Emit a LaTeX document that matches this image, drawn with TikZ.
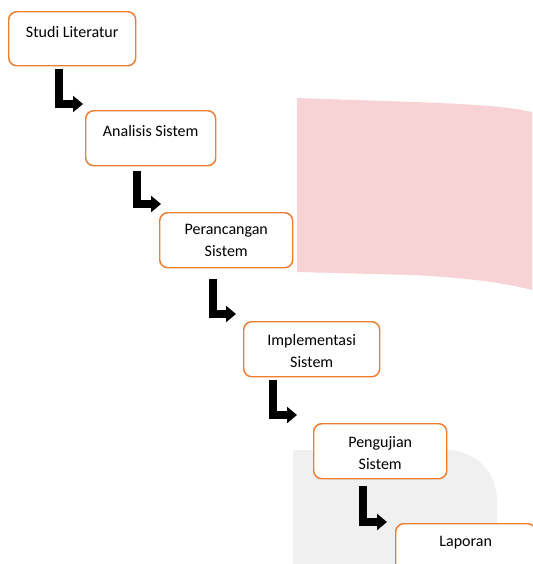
\documentclass[tikz,border=0pt]{standalone}
\usepackage{fontspec}
\setmainfont{Carlito}
\usepackage{xcolor}
\usepackage{tikz}
\usetikzlibrary{arrows.meta,calc}
\definecolor{orange}{RGB}{237, 125, 49}
\definecolor{pink}{RGB}{248, 211, 213}
\definecolor{mist}{RGB}{240, 240, 240}

\begin{document}
\begin{tikzpicture}[x=0.75pt,y=0.75pt,yscale=-1,xscale=1,
  stage/.style={draw=orange, line width=1.1pt, rounded corners=6pt, fill=white, anchor=north west, inner sep=0pt},
  stagetext/.style={anchor=north, inner sep=0pt, align=center, font=\fontsize{12}{16.5}\selectfont},
  turn/.style={line width=6pt, -{Triangle[length=7.5pt,width=12pt]}}]
\useasboundingbox (0,0) rectangle (532,564);

%Shape: Watermark [top right]
\fill [pink] (297,98) -- (413,102) .. controls (470,104) and (505,106) .. (532,112) -- (532,290) .. controls (505,283) and (470,278) .. (413,275) -- (297,272) -- cycle ;
%Shape: Watermark [bottom right]
\fill [mist] (293,450) -- (447,450) .. controls (475,450) and (497,472) .. (497,500) -- (497,564) -- (293,564) -- cycle ;

%Shape: Rounded Rect [Studi Literatur]
\node [stage, minimum width=95.25pt, minimum height=40.5pt] (lit) at (8,11) {};
%Shape: Rounded Rect [Analisis Sistem]
\node [stage, minimum width=97.5pt, minimum height=41.25pt] (ana) at (85,110) {};
%Shape: Rounded Rect [Perancangan Sistem]
\node [stage, minimum width=99.75pt, minimum height=41.25pt] (ran) at (159,212) {};
%Shape: Rounded Rect [Implementasi Sistem]
\node [stage, minimum width=102pt, minimum height=41.25pt] (imp) at (243,321) {};
%Shape: Rounded Rect [Pengujian Sistem]
\node [stage, minimum width=99.75pt, minimum height=41.25pt] (uji) at (313,423) {};
%Shape: Rounded Rect [Laporan]
\node [stage, minimum width=105pt, minimum height=41.25pt] (lap) at (395,523) {};

%Bent Arrows
\coordinate (t1s) at (59,69);
\coordinate (t1e) at (83,104);
\draw [turn] (t1s) |- (t1e);
\coordinate (t2s) at (137,171);
\coordinate (t2e) at (161,204);
\draw [turn] (t2s) |- (t2e);
\coordinate (t3s) at (212.5,279);
\coordinate (t3e) at (236,314);
\draw [turn] (t3s) |- (t3e);
\coordinate (t4s) at (273,380);
\coordinate (t4e) at (297,415);
\draw [turn] (t4s) |- (t4e);
\coordinate (t5s) at (363,486);
\coordinate (t5e) at (387,522);
\draw [turn] (t5s) |- (t5e);

% Text Node
\node [stagetext] (littext) at ($(lit.north)+(0,15)$) {Studi Literatur};
% Text Node
\node [stagetext] (anatext) at ($(ana.north)+(0,15)$) {Analisis Sistem};
% Text Node
\node [stagetext] (rantext) at ($(ran.north)+(0,12)$) {Perancangan\\Sistem};
% Text Node
\node [stagetext] (imptext) at ($(imp.north)+(0,13)$) {Implementasi\\Sistem};
% Text Node
\node [stagetext] (ujitext) at ($(uji.north)+(0,13)$) {Pengujian\\Sistem};
% Text Node
\node [stagetext] (laptext) at ($(lap.north)+(0,13)$) {Laporan};

\end{tikzpicture}
\end{document}
